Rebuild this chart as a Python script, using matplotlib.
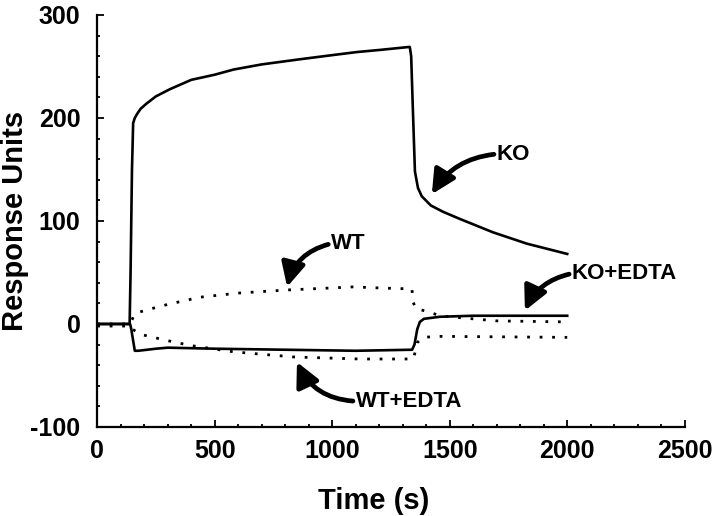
import matplotlib
matplotlib.use("Agg")
import matplotlib.pyplot as plt

plt.rcParams['font.family'] = ['Liberation Sans', 'DejaVu Sans']
plt.rcParams['font.weight'] = 'bold'
plt.rcParams['axes.unicode_minus'] = False

# KO (solid, large response)
ko_t = [0, 138, 142, 148, 153, 160, 170, 185, 210, 250, 310, 400, 500, 580, 700, 863, 1000, 1105, 1200, 1330,
        1336, 1343, 1352, 1365, 1381, 1420, 1471, 1543, 1684, 1828, 2000]
ko_v = [0, 0, 50, 150, 195, 200, 204, 209, 214, 221, 228, 237, 242, 247, 252, 257, 261, 264, 266, 269,
        260, 210, 148, 132, 124, 115, 109, 102, 89, 78, 68]

# KO+EDTA (solid, small)
koe_t = [0, 140, 145, 160, 175, 250, 300, 500, 800, 1100, 1340, 1350, 1362, 1373, 1390, 1458, 1600, 2000]
koe_v = [0, 0, -5, -26, -26, -24, -23, -24, -25, -26, -25, -20, -5, 2, 5, 7, 8, 8]

# WT (dotted, upper)
wt_t = [0, 140, 150, 160, 200, 300, 438, 600, 807, 1000, 1089, 1200, 1339, 1345, 1355, 1407, 1458, 1550, 1700, 2000]
wt_v = [0, 0, 5, 10, 13, 19, 26, 30, 33, 35, 36, 35, 34, 21, 15, 12, 8, 6, 3, 2]

# WT+EDTA (dotted, lower)
wte_t = [0, 140, 150, 183, 296, 400, 580, 834, 1118, 1345, 1352, 1362, 1386, 1450, 2000]
wte_v = [-2, -2, -5, -10, -16, -21, -27, -32, -34, -34, -28, -18, -13, -12, -13]

fig = plt.figure(figsize=(7.2, 5.16), dpi=100)
ax = fig.add_axes([0.135, 0.1725, 0.816, 0.7985])

ax.plot(ko_t, ko_v, color='black', lw=1.9)
ax.plot(koe_t, koe_v, color='black', lw=1.9)
ax.plot(wt_t, wt_v, color='black', lw=2.0, linestyle=(0, (1, 3.5)))
ax.plot(wte_t, wte_v, color='black', lw=2.0, linestyle=(0, (1, 3.5)))

ax.set_xlim(0, 2500)
ax.set_ylim(-100, 300)
ax.set_xticks([0, 500, 1000, 1500, 2000, 2500])
ax.set_yticks([-100, 0, 100, 200, 300])
ax.set_xticks(range(0, 2501, 100), minor=True)
ax.set_yticks(range(-100, 301, 20), minor=True)
ax.tick_params(which='both', direction='in', width=1.3, labelsize=18)
ax.tick_params(which='major', length=5)
ax.tick_params(which='minor', length=2.5)
ax.tick_params(axis='y', pad=12)
ax.tick_params(axis='x', pad=9)

for side in ['top', 'right']:
    ax.spines[side].set_visible(False)
for side in ['left', 'bottom']:
    ax.spines[side].set_linewidth(1.6)

ax.set_xlabel('Time (s)', fontsize=21, fontweight='bold')
ax.set_ylabel('Response Units', fontsize=21, fontweight='bold')
ax.xaxis.set_label_coords(0.471, -0.146)
ax.yaxis.set_label_coords(-0.14, 0.5)
ax.yaxis.label.set_va('center')

arrow = dict(arrowstyle='-|>,head_length=0.9,head_width=0.45', lw=3.4, color='black',
             shrinkA=0, shrinkB=0)

ax.annotate('KO', xy=(1424, 126), xytext=(1700, 165), fontsize=16, fontweight='bold',
            va='center', ha='left',
            arrowprops=dict(arrow, connectionstyle='arc3,rad=0.25', relpos=(0, 0.5)))
ax.annotate('WT', xy=(808, 36), xytext=(995, 78), fontsize=16, fontweight='bold',
            va='center', ha='left',
            arrowprops=dict(arrow, connectionstyle='arc3,rad=0.3', relpos=(0, 0.5)))
ax.annotate('KO+EDTA', xy=(1820, 13), xytext=(2020, 49), fontsize=16, fontweight='bold',
            va='center', ha='left',
            arrowprops=dict(arrow, connectionstyle='arc3,rad=0.25', relpos=(0, 0.5)))
ax.annotate('WT+EDTA', xy=(850, -37), xytext=(1100, -75), fontsize=16, fontweight='bold',
            va='center', ha='left',
            arrowprops=dict(arrow, connectionstyle='arc3,rad=-0.3', relpos=(0, 0.5)))

fig.savefig('out.png', dpi=100)
